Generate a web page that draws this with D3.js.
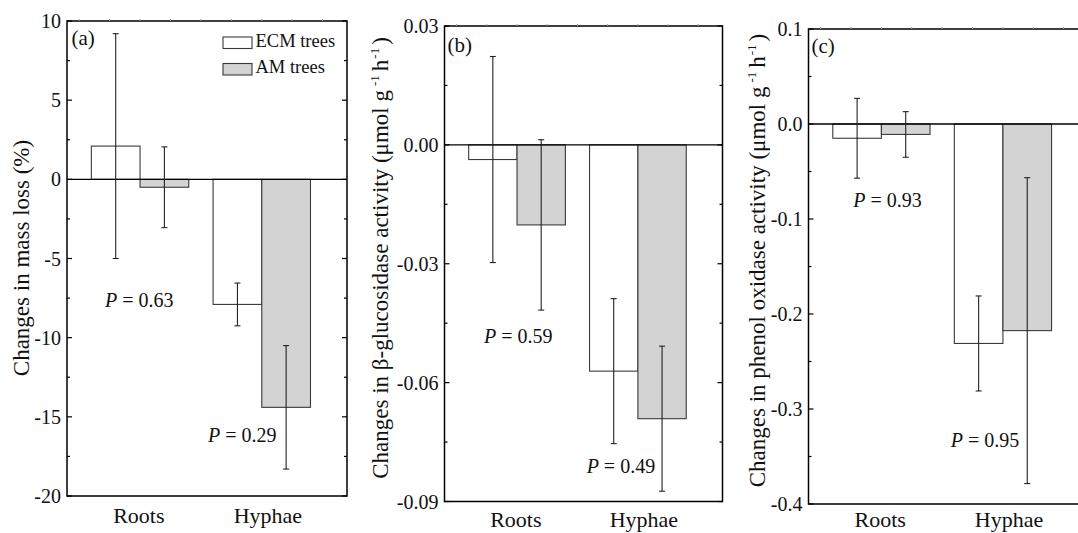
<!DOCTYPE html>
<html>
<head>
<meta charset="utf-8">
<script src="https://cdn.jsdelivr.net/npm/d3@7"></script>
<style>
  body { margin: 0; background: #fff; }
  svg text { font-family: "Liberation Serif", "Times New Roman", serif; fill: #111; }
</style>
</head>
<body>
<svg id="chart" width="1078" height="533"></svg>
<script>
// data
var categories = ["Roots", "Hyphae"];

var massEcm = [2.1, -7.9],       massEcmErr = [7.1, 1.35];
var massAm = [-0.5, -14.4],      massAmErr = [2.55, 3.9];

var glucEcm = [-0.0037, -0.0571], glucEcmErr = [0.026, 0.0183];
var glucAm = [-0.0202, -0.0691],  glucAmErr = [0.0215, 0.0183];

var phenEcm = [-0.015, -0.231],   phenEcmErr = [0.042, 0.050];
var phenAm = [-0.011, -0.2175],   phenAmErr = [0.024, 0.161];

var massTicks = [-20, -15, -10, -5, 0, 5, 10];
var glucTicks = [-0.09, -0.06, -0.03, 0, 0.03];
var phenTicks = [-0.4, -0.3, -0.2, -0.1, 0, 0.1];

var massP = [{x: 0.712, y: -8.05, t: "0.63"}, {x: 1.559, y: -16.57, t: "0.29"}];
var glucP = [{x: 0.727, y: -0.0499, t: "0.59"}, {x: 1.576, y: -0.0829, t: "0.49"}];
var phenP = [{x: 0.769, y: -0.0877, t: "0.93"}, {x: 1.570, y: -0.340, t: "0.95"}];

var svg = d3.select("#chart");

var panels = [
    {left: 67, right: 347, top: 21, bottom: 496, domain: [-20, 10], ticks: massTicks, minor: 2.5,
     fmt: d3.format("d"), ecm: massEcm, ecmErr: massEcmErr, am: massAm, amErr: massAmErr,
     p: massP, tag: "(a)", tagPos: [71.5, 45], labelX: 28.5, labelY: 258, legend: true,
     label: ["Changes in mass loss (%)"]},
    {left: 444.5, right: 722.5, top: 26, bottom: 501.5, domain: [-0.09, 0.03], ticks: glucTicks, minor: 0.015,
     fmt: d3.format(".2f"), ecm: glucEcm, ecmErr: glucEcmErr, am: glucAm, amErr: glucAmErr,
     p: glucP, tag: "(b)", tagPos: [447.5, 51.5], labelX: 388, labelY: 258,
     label: ["Changes in \u03b2-glucosidase activity (\u03bcmol g"]},
    {left: 808.5, right: 1088, top: 29, bottom: 504, domain: [-0.4, 0.1], ticks: phenTicks, minor: 0.05,
     fmt: d3.format(".1f"), ecm: phenEcm, ecmErr: phenEcmErr, am: phenAm, amErr: phenAmErr,
     p: phenP, tag: "(c)", tagPos: [811.5, 53], labelX: 764.5, labelY: 260.5,
     label: ["Changes in phenol oxidase activity (\u03bcmol g"]}
];

function drawPanel(cfg) {

    var x = d3.scaleLinear().domain([0.4, 2.7]).range([cfg.left, cfg.right]);
    var y = d3.scaleLinear().domain(cfg.domain).range([cfg.bottom, cfg.top]);
    var g = svg.append("g");
    var half = 0.4;

    var fmt = function(v) { return cfg.fmt(v).replace("\u2212", "-"); };

    // bars
    var rows = categories.map(function(c, i) {
        return {i: i + 1, ecm: cfg.ecm[i], ecmErr: cfg.ecmErr[i], am: cfg.am[i], amErr: cfg.amErr[i]};
    });

    var series = [
        {key: "ecm", err: "ecmErr", off: -half, fill: "#ffffff"},
        {key: "am", err: "amErr", off: 0, fill: "#d3d3d3"}
    ];

    series.forEach(function(s) {
        g.selectAll(".bar-" + s.key)
            .data(rows)
            .enter()
            .append("rect")
            .attr("x", function(d) { return x(d.i + s.off); })
            .attr("width", function(d) { return x(d.i + s.off + half) - x(d.i + s.off); })
            .attr("y", function(d) { return Math.min(y(d[s.key]), y(0)); })
            .attr("height", function(d) { return Math.abs(y(d[s.key]) - y(0)); })
            .attr("fill", s.fill)
            .attr("stroke", "#3a3a3a")
            .attr("stroke-width", 1.1);
    });

    // zero line
    g.append("line")
        .attr("x1", cfg.left).attr("x2", cfg.right)
        .attr("y1", y(0)).attr("y2", y(0))
        .attr("stroke", "#000").attr("stroke-width", 1.3);

    // error bars
    series.forEach(function(s) {
        rows.forEach(function(d) {
            var cx = x(d.i + s.off + half / 2);
            var hi = y(d[s.key] + d[s.err]), lo = y(d[s.key] - d[s.err]);
            g.append("line").attr("x1", cx).attr("x2", cx).attr("y1", hi).attr("y2", lo)
                .attr("stroke", "#222").attr("stroke-width", 1.1);
            [hi, lo].forEach(function(yy) {
                g.append("line").attr("x1", cx - 3).attr("x2", cx + 3).attr("y1", yy).attr("y2", yy)
                    .attr("stroke", "#222").attr("stroke-width", 1.1);
            });
        });
    });

    // frame
    g.append("rect")
        .attr("x", cfg.left).attr("y", cfg.top)
        .attr("width", cfg.right - cfg.left).attr("height", cfg.bottom - cfg.top)
        .attr("fill", "none").attr("stroke", "#000").attr("stroke-width", 1.5);

    // ticks, inward on left and right
    var minors = d3.range(cfg.domain[0], cfg.domain[1] + cfg.minor / 2, cfg.minor);
    minors.forEach(function(v) {
        var major = cfg.ticks.some(function(t) { return Math.abs(t - v) < cfg.minor / 10; });
        var len = major ? 5 : 3;
        g.append("line").attr("x1", cfg.left).attr("x2", cfg.left + len)
            .attr("y1", y(v)).attr("y2", y(v)).attr("stroke", "#000").attr("stroke-width", 1.2);
        g.append("line").attr("x1", cfg.right).attr("x2", cfg.right - len)
            .attr("y1", y(v)).attr("y2", y(v)).attr("stroke", "#000").attr("stroke-width", 1.2);
    });

    // faint ticks along the top border
    d3.range(0.5, 2.7, 0.25).forEach(function(v) {
        g.append("line").attr("x1", x(v)).attr("x2", x(v))
            .attr("y1", cfg.top).attr("y2", cfg.top - 2)
            .attr("stroke", "#999").attr("stroke-width", 1);
    });

    g.selectAll(".tick-label")
        .data(cfg.ticks)
        .enter()
        .append("text")
        .attr("x", cfg.left - 6)
        .attr("y", function(d) { return y(d); })
        .attr("dy", "0.35em")
        .attr("text-anchor", "end")
        .style("font-size", "20px")
        .text(fmt);

    // category labels
    g.selectAll(".cat")
        .data(categories)
        .enter()
        .append("text")
        .attr("x", function(d, i) { return x(i === 0 ? 0.99 : 2.05); })
        .attr("y", Math.min(cfg.bottom + 27, 527))
        .attr("text-anchor", "middle")
        .style("font-size", "22px")
        .text(function(d) { return d; });

    // panel tag
    g.append("text").attr("x", cfg.tagPos[0]).attr("y", cfg.tagPos[1])
        .style("font-size", "21px").text(cfg.tag);

    // P values
    cfg.p.forEach(function(p) {
        var t = g.append("text").attr("x", x(p.x)).attr("y", y(p.y)).style("font-size", "20px");
        t.append("tspan").style("font-style", "italic").text("P");
        t.append("tspan").text(" = " + p.t);
    });

    // y label
    var lab = g.append("text")
        .attr("transform", "translate(" + cfg.labelX + "," + cfg.labelY + ") rotate(-90)")
        .attr("text-anchor", "middle")
        .style("font-size", "23px");
    lab.append("tspan").text(cfg.label[0]);
    if (cfg.label[0].indexOf("\u03bcmol") >= 0) {
        lab.append("tspan").attr("dx", 4).attr("dy", -9).style("font-size", "13px").text("-1");
        lab.append("tspan").attr("dx", 4).attr("dy", 9).text("h");
        lab.append("tspan").attr("dx", 1).attr("dy", -9).style("font-size", "13px").text("-1");
        lab.append("tspan").attr("dx", 3).attr("dy", 9).text(")");
    }

    // legend
    if (cfg.legend) {
        var items = [{name: "ECM trees", fill: "#ffffff"}, {name: "AM trees", fill: "#d3d3d3"}];
        items.forEach(function(it, i) {
            g.append("rect").attr("x", 223).attr("y", 37 + i * 26.5)
                .attr("width", 29).attr("height", 11.5)
                .attr("fill", it.fill).attr("stroke", "#3a3a3a").attr("stroke-width", 1.1);
            g.append("text").attr("x", 255.5).attr("y", 47 + i * 26)
                .style("font-size", "18.5px").text(it.name);
        });
    }
}

panels.forEach(drawPanel);
</script>
</body>
</html>
